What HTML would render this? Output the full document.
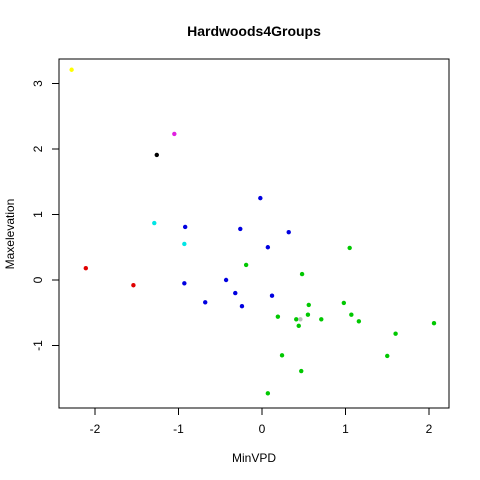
<!DOCTYPE html>
<html><head><meta charset="utf-8"><style>
html,body{margin:0;padding:0;background:#fff;}
svg{display:block;font-family:"Liberation Sans",Arial,sans-serif;}
</style></head><body>
<svg id="chart" width="480" height="480">
<rect x="0" y="0" width="480" height="480" fill="#fff"/>
<text x="254" y="36" font-size="14" font-weight="bold" text-anchor="middle">Hardwoods4Groups</text>
<rect x="59" y="59" width="390" height="349" fill="none" stroke="#000" stroke-width="1"/>
<text x="254" y="462" font-size="12" text-anchor="middle">MinVPD</text>
<text x="14" y="234" font-size="12" text-anchor="middle" transform="rotate(-90 14 234)">Maxelevation</text>
<g id="axes"></g>
<g id="points"></g>
</svg>
<script>
const xTicks=[-2,-1,0,1,2];
const yTicks=[-1,0,1,2,3];
const xVals=[-2.28,-1.05,-1.26,-1.29,-0.93,-2.11,-1.54,
 -0.02,-0.92,-0.26,0.32,0.07,-0.43,-0.93,-0.32,0.12,-0.68,-0.24,
 -0.19,0.48,1.05,0.19,0.56,0.41,0.44,0.55,0.71,0.98,1.07,1.16,1.60,2.06,1.50,0.24,0.47,0.07,0.46];
const yVals=[3.21,2.23,1.91,0.87,0.55,0.18,-0.08,
 1.25,0.81,0.78,0.73,0.50,0.00,-0.05,-0.20,-0.24,-0.34,-0.40,
 0.23,0.09,0.49,-0.56,-0.38,-0.60,-0.70,-0.53,-0.60,-0.35,-0.53,-0.63,-0.82,-0.66,-1.16,-1.15,-1.39,-1.73,-0.60];
const groups=["yellow","magenta","black","cyan","cyan","red","red",
 "blue","blue","blue","blue","blue","blue","blue","blue","blue","blue","blue",
 "green","green","green","green","green","green","green","green","green","green","green","green","green","green","green","green","green","green","gray"];
const colors={yellow:"#ffff00",magenta:"#e020e0",black:"#000",cyan:"#00e5e5",red:"#e00000",blue:"#0000e0",green:"#00c800",gray:"#bebebe"};
const NS="http://www.w3.org/2000/svg";
function sx(v){return 262+(v*83.5);}
function sy(v){return 280-(v*65.5);}
const ax=document.getElementById('axes');
function mk(t,a){const e=document.createElementNS(NS,t);for(const k in a)e.setAttribute(k,a[k]);return e;}
ax.appendChild(mk('line',{x1:sx(xTicks[0]),x2:sx(xTicks[xTicks.length-1]),y1:408,y2:408,stroke:'#000'}));
xTicks.forEach(t=>{
 const l=mk('line',{x1:sx(t),x2:sx(t),y1:408,y2:415,stroke:'#000'});
 
 
 ax.appendChild(l);
 const tx=mk('text',{x:sx(t),y:433,'font-size':12,'text-anchor':'middle'});
 tx.textContent=t;
 
 
 ax.appendChild(tx);
});
ax.appendChild(mk('line',{x1:59,x2:59,y1:sy(yTicks[0]),y2:sy(yTicks[yTicks.length-1]),stroke:'#000'}));
yTicks.forEach(t=>{
 const l=mk('line',{x1:52,x2:59,y1:sy(t),y2:sy(t),stroke:'#000'});
 
 
 ax.appendChild(l);
 const tx=mk('text',{x:42,y:sy(t),'font-size':12,'text-anchor':'middle',transform:`rotate(-90 42 ${sy(t)})`});
 tx.textContent=t;
 
 
 ax.appendChild(tx);
});
const pg=document.getElementById('points');
xVals.forEach((v,i)=>{
 const c=mk('circle',{cx:sx(v),cy:sy(yVals[i]),r:2.2,fill:colors[groups[i]]});
 
 
 pg.appendChild(c);
});
</script>
</body></html>
